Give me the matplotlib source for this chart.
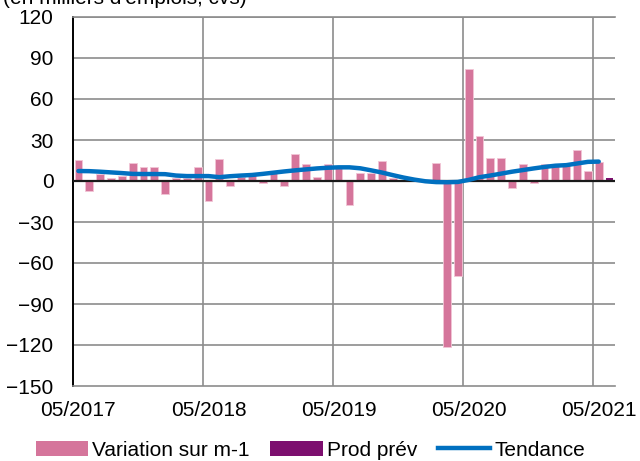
import numpy as np
import matplotlib
matplotlib.use("Agg")
from matplotlib import pyplot as plt
from matplotlib.patches import Patch
from matplotlib.lines import Line2D

plt.rcParams['font.family'] = ['Liberation Sans', 'DejaVu Sans']

# monthly change, 05/2017 -> 05/2021
variation = [15, -7, 5, 2, 4, 13, 10, 10, -9.5, 2, 2.5, 10,
             -14.5, 16, -3.7, 3, 6, -1.2, 5.5, -3.7, 19.5, 12.4, 3, 12.4,
             10, -17.6, 5.5, 5.5, 14.5, 2, 1, 0.5, 0, 13.5, -121.5, -69.5,
             82, 33, 17, 17, -5, 12.3, -1.6, 12.3, 11.5, 11.5, 23, 7,
             14]
# forecast for the following month
prod_prev = [2]
# smoothed trend
tendance = [7.3, 7.2, 6.8, 6.3, 5.8, 5.2, 5.1, 5.1, 5.0, 4.0, 3.6, 3.6,
            3.6, 2.8, 3.5, 4.0, 4.4, 5.2, 6.1, 7.0, 7.8, 8.5, 9.2, 9.7,
            10.0, 10.0, 9.3, 7.8, 6.2, 4.3, 2.5, 1.0, -0.2, -0.8, -0.9, -0.7,
            0.8, 2.8, 4.0, 5.4, 6.8, 8.0, 9.2, 10.3, 11.2, 11.6, 12.8, 14.0,
            14.2]
tick_labels = ['05/2017', '05/2018', '05/2019', '05/2020', '05/2021']
y_ticks = [120, 90, 60, 30, 0, -30, -60, -90, -120, -150]

PINK = '#d5759b'
PURPLE = '#7d0f6f'
BLUE = '#0070c0'
GRID = '#8c8c8c'
FS = 15

fig = plt.figure(figsize=(6.4, 4.61), dpi=100)
ax = fig.add_axes([73 / 640, 1 - 386 / 461, 542 / 640, 369 / 461])

n = len(variation)
x_var = np.arange(n) + 0.5
x_prev = np.arange(n, n + len(prod_prev)) + 0.5

# grid first so bars sit on top
for y in y_ticks[:-1]:
    if y != 0:
        ax.axhline(y, color=GRID, lw=1.2, zorder=0)
for m in range(12, n, 12):
    ax.axvline(m, color=GRID, lw=1.2, zorder=0)

ax.bar(x_var, variation, width=0.72, color=PINK, edgecolor='#f2c6d6',
       linewidth=0.6, zorder=2)
ax.bar(x_prev, prod_prev, width=0.72, color=PURPLE, zorder=2)
ax.axhline(0, color='#1a1a1a', lw=1.6, zorder=3)
ax.plot(x_var, tendance, color=BLUE, lw=3.2, solid_capstyle='round', zorder=4)

ax.set_xlim(0, n + len(prod_prev))
ax.set_ylim(-150, 120)
ax.set_yticks(y_ticks)
ax.set_xticks([0.5, 12.5, 24.5, 36.5, 48.5])
ax.set_xticklabels(tick_labels)
ax.tick_params(axis='both', length=0, labelsize=FS, colors='black')
ax.tick_params(axis='y', pad=14)
ax.tick_params(axis='x', pad=11)

ax.spines['right'].set_visible(False)
ax.spines['top'].set_color(GRID)
ax.spines['top'].set_linewidth(1.2)
ax.spines['bottom'].set_color(GRID)
ax.spines['bottom'].set_linewidth(1.2)
ax.spines['left'].set_color('black')
ax.spines['left'].set_linewidth(1.4)

handles = [Patch(facecolor=PINK, edgecolor='none'),
           Patch(facecolor=PURPLE, edgecolor='none'),
           Line2D([0], [0], color=BLUE, lw=3.2)]
fig.legend(handles, ['Variation sur m-1', 'Prod prév', 'Tendance'],
           loc='center', bbox_to_anchor=(0.485, 1 - 450 / 461), ncol=3,
           frameon=False, fontsize=FS, handlelength=2.5, handleheight=0.7,
           handletextpad=0.2, columnspacing=1.0)

fig.text(3 / 640, 1 - 4 / 461, "(en milliers d'emplois, cvs)", fontsize=FS,
         va='baseline', ha='left')

fig.savefig('out.png', dpi=100)
